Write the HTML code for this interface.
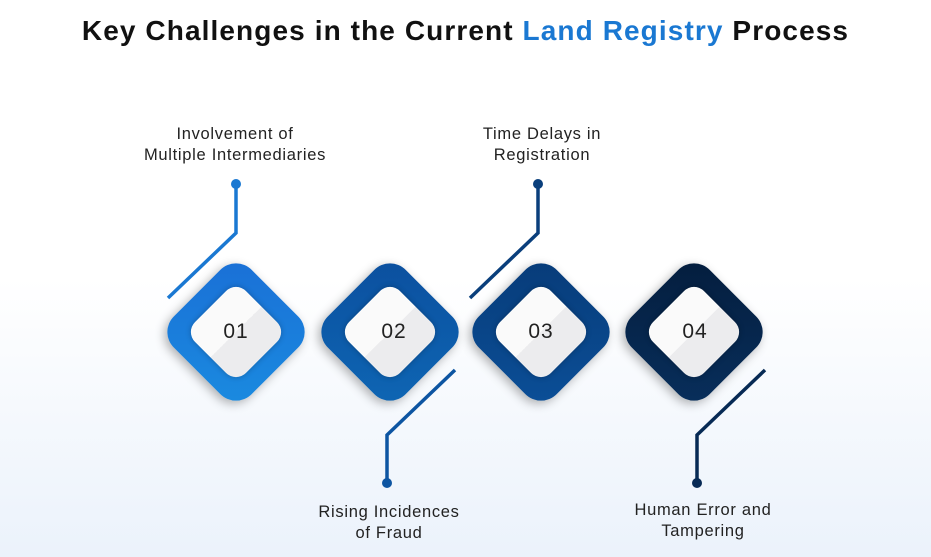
<!DOCTYPE html>
<html><head><style>
body{margin:0;width:931px;height:557px;overflow:hidden;font-family:"Liberation Sans",sans-serif;background:linear-gradient(#fff 0%,#fff 50%,#ebf2fb 100%);position:relative}
h1{position:absolute;top:15px;left:0;width:931px;text-align:center;margin:0;font-size:28px;font-weight:bold;color:#111;letter-spacing:1.1px;white-space:nowrap}
h1 span{color:#1a78d2}
.l{position:absolute;font-size:16.5px;color:#222;text-align:center;line-height:21px;width:300px;letter-spacing:0.7px}
.d{position:absolute;width:110px;height:110px;border-radius:22px;transform:rotate(45deg);box-shadow:0 4px 10px rgba(0,0,0,.3)}
.i{position:absolute;width:72px;height:72px;border-radius:14px;transform:rotate(45deg);background:linear-gradient(90deg,#fafafa 50%,#ececee 50%);box-shadow:0 0 6px rgba(0,0,0,.25)}
.n{position:absolute;width:80px;text-align:center;font-size:21px;color:#222;top:320px;letter-spacing:1px}
</style></head><body>
<h1>Key Challenges in the Current <span>Land Registry</span> Process</h1>
<div class="l" style="left:85px;top:124px">Involvement of<br>Multiple Intermediaries</div>
<div class="l" style="left:392px;top:124px">Time Delays in<br>Registration</div>
<div class="l" style="left:239px;top:502px">Rising Incidences<br>of Fraud</div>
<div class="l" style="left:553px;top:500px">Human Error and<br>Tampering</div>
<svg width="931" height="557" style="position:absolute;left:0;top:0" fill="none" stroke-width="3.5">
<g stroke="#1a78d2"><polyline points="236,184 236,233 168,298"/><circle cx="236" cy="184" r="5" fill="#1a78d2" stroke="none"/></g>
<g stroke="#0d55a2"><polyline points="455,370 387,435 387,483"/><circle cx="387" cy="483" r="5" fill="#0d55a2" stroke="none"/></g>
<g stroke="#0a3f7c"><polyline points="538,184 538,233 470,298"/><circle cx="538" cy="184" r="5" fill="#0a3f7c" stroke="none"/></g>
<g stroke="#072a55"><polyline points="765,370 697,435 697,483"/><circle cx="697" cy="483" r="5" fill="#072a55" stroke="none"/></g>
</svg>
<div class="d" style="left:181px;top:277px;background:linear-gradient(135deg,#1a6fd6,#1a8be0)"></div>
<div class="d" style="left:335px;top:277px;background:linear-gradient(135deg,#0b4f9e,#0e66b4)"></div>
<div class="d" style="left:486px;top:277px;background:linear-gradient(135deg,#073b78,#0b4f98)"></div>
<div class="d" style="left:639px;top:277px;background:linear-gradient(135deg,#041d3d,#082f5c)"></div>
<div class="i" style="left:200px;top:296px"></div>
<div class="i" style="left:354px;top:296px"></div>
<div class="i" style="left:505px;top:296px"></div>
<div class="i" style="left:658px;top:296px"></div>
<div class="n" style="left:196px">01</div>
<div class="n" style="left:354px">02</div>
<div class="n" style="left:501px">03</div>
<div class="n" style="left:655px">04</div>
</body></html>
